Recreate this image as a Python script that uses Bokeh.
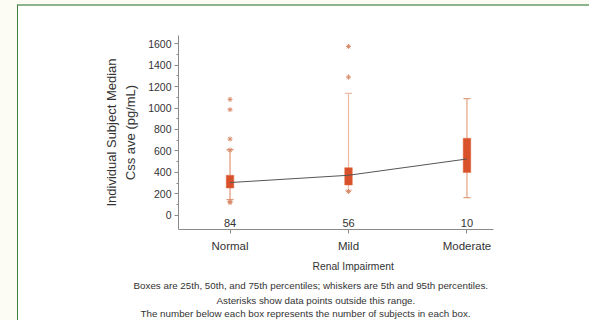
from bokeh.plotting import figure
from bokeh.models import Range1d, FixedTicker, LinearAxis, Title, ColumnDataSource
from bokeh.core.properties import value
from bokeh.embed import file_html
from bokeh.resources import INLINE

# ---- data ----
categories = ["Normal", "Mild", "Moderate"]
n_subjects = [84, 56, 10]
p5 = [146, 233, 165]
q1 = [254, 282, 398]
median = [305, 373, 525]
q3 = [373, 444, 718]
p95 = [612, 1137, 1088]
out_group = ["Normal", "Normal", "Normal", "Normal", "Normal", "Normal", "Mild", "Mild", "Mild"]
out_value = [1081, 985, 711, 608, 128, 118, 1575, 1289, 222]
y_ticks = [0, 200, 400, 600, 800, 1000, 1200, 1400, 1600]
x_title = "Renal Impairment"
y_title_inner = "Css ave (pg/mL)"
y_title_outer = "Individual Subject Median"
captions = ["Boxes are 25th, 50th, and 75th percentiles; whiskers are 5th and 95th percentiles.",
            "Asterisks show data points outside this range.",
            "The number below each box represents the number of subjects in each box."]

FONT = "Liberation Sans"
TXT = "#333333"
AX = "#8a8a8a"
xpos = [i + 1 for i in range(len(categories))]
xmap = {c: i + 1 for i, c in enumerate(categories)}

p = figure(width=572, height=316, output_backend="svg", toolbar_location=None,
           x_range=Range1d(0.565, 3.224), y_range=Range1d(-133, 1677),
           min_border_left=160, min_border_right=97, min_border_top=29, min_border_bottom=93,
           background_fill_color="white", border_fill_color="white",
           styles={"margin-left": "17px", "margin-top": "4px",
                   "border-left": "1px solid #3f7d3f", "border-top": "2px solid #8db58d",
                   "box-shadow": "-18px 0 0 #fcfbf4, 0 -6px 0 #fcfbf4, -18px -6px 0 #fcfbf4"})
p.outline_line_color = None
p.grid.grid_line_color = None

# axes
p.xaxis.ticker = FixedTicker(ticks=xpos)
p.xaxis.major_label_overrides = {x: c for x, c in zip(xpos, categories)}
p.yaxis.ticker = FixedTicker(ticks=y_ticks, minor_ticks=list(range(0, 1700, 100)))
for ax in (p.xaxis, p.yaxis):
    ax.axis_line_color = AX
    ax.major_tick_line_color = AX
    ax.minor_tick_line_color = AX
    ax.major_tick_in = 0
    ax.major_tick_out = 4
    ax.minor_tick_in = 0
    ax.minor_tick_out = 2
    ax.major_label_text_font = FONT
    ax.major_label_text_color = TXT
p.xaxis.minor_tick_line_color = None
p.xaxis.major_label_text_font_size = "11.5px"
p.xaxis.major_label_standoff = 6
p.yaxis.major_label_text_font_size = "10.5px"
p.yaxis.major_label_standoff = 3
p.yaxis.axis_label = y_title_inner
p.yaxis.axis_label_standoff = 7
p.yaxis.axis_label_text_font = FONT
p.yaxis.axis_label_text_font_size = "13px"
p.yaxis.axis_label_text_font_style = "normal"
p.yaxis.axis_label_text_color = TXT

outer = LinearAxis(ticker=FixedTicker(ticks=[]), axis_line_color=None,
                   major_tick_line_color=None, minor_tick_line_color=None,
                   axis_label=y_title_outer, axis_label_standoff=2,
                   axis_label_text_font=FONT, axis_label_text_font_size="13px",
                   axis_label_text_font_style="normal", axis_label_text_color=TXT)
p.add_layout(outer, "left")

# whiskers and caps
WH = ["#e09878", "#eebca4", "#e3a080"]
p.segment(x0=xpos, x1=xpos, y0=p5, y1=q1, line_color=WH, line_width=1.2)
p.segment(x0=xpos, x1=xpos, y0=q3, y1=p95, line_color=WH, line_width=1.2)
cap_half = 0.03
p.segment(x0=[x - cap_half for x in xpos], x1=[x + cap_half for x in xpos], y0=p5, y1=p5,
          line_color=WH, line_width=1.2)
p.segment(x0=[x - cap_half for x in xpos], x1=[x + cap_half for x in xpos], y0=p95, y1=p95,
          line_color=WH, line_width=1.2)
# boxes
p.vbar(x=xpos, width=0.064, bottom=q1, top=q3, fill_color="#d9512a", line_color="#e06a44",
       line_width=0.5)
# outliers
p.scatter(x=[xmap[g] for g in out_group], y=out_value, marker="asterisk", size=5,
          line_color="#d98c6c", line_width=1)
# median connecting line
p.line(x=xpos, y=median, line_color="#555555", line_width=1)

# subject counts
src = ColumnDataSource(dict(x=xpos, y=[-75] * len(xpos), t=[str(n) for n in n_subjects]))
p.text(x="x", y="y", text="t", source=src, text_align="center", text_baseline="middle",
       text_font=value(FONT), text_font_size="11px", text_color=TXT)

# x title and caption as titles below the axis
p.add_layout(Title(text=x_title, align="left", offset=134, text_font=FONT,
                   text_font_size="10.3px", text_font_style="normal", text_color=TXT,
                   standoff=8), "below")
cap_sizes = ["9.8px", "9.8px", "9.8px"]
cap_offsets = [-45, 38, -38]
cap_standoffs = [4, 0, 0]
for cap, off, fs, so in zip(captions, cap_offsets, cap_sizes, cap_standoffs):
    p.add_layout(Title(text=cap, align="left", offset=off, text_font=FONT,
                       text_font_size=fs, text_font_style="normal", text_color=TXT,
                       vertical_align="bottom", standoff=so), "below")

open("out.html", "w").write(file_html(p, INLINE))
